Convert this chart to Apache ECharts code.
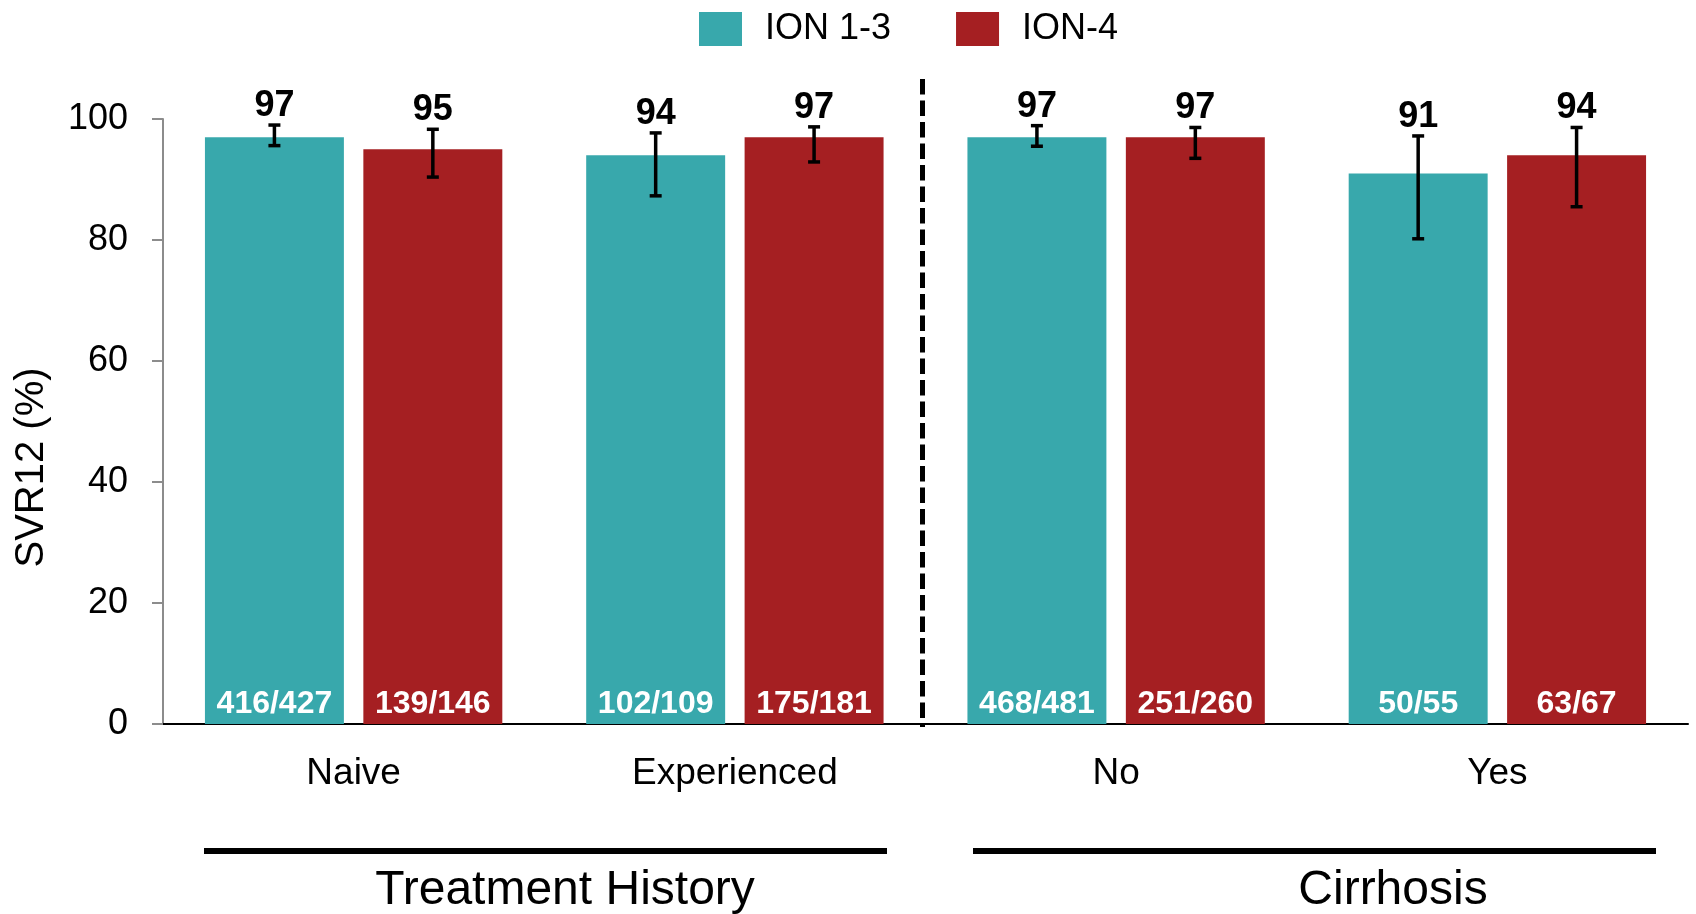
<!DOCTYPE html>
<html>
<head>
<meta charset="utf-8">
<script src="https://cdn.jsdelivr.net/npm/echarts@6/dist/echarts.min.js"></script>
<style>
html,body{margin:0;padding:0;background:#fff;}
#chart{width:1696px;height:914px;}
</style>
</head>
<body>
<div id="chart"></div>
<script>
// ---- data ----
const categories = ['Naive', 'Experienced', 'No', 'Yes'];
const seriesNames = ['ION 1-3', 'ION-4'];
const ion13 = [97, 94, 97, 91];
const ion4 = [95, 97, 97, 94];
const ion13Low = [95.6, 87.3, 95.5, 80.2];
const ion13High = [99.0, 97.7, 98.9, 97.2];
const ion4Low = [90.4, 92.9, 93.5, 85.5];
const ion4High = [98.3, 98.7, 98.6, 98.6];
const ion13N = ['416/427', '102/109', '468/481', '50/55'];
const ion4N = ['139/146', '175/181', '251/260', '63/67'];
const groupNames = ['Treatment History', 'Cirrhosis'];
const yAxisTitle = 'SVR12 (%)';

// ---- styling ----
const FONT = '"Liberation Sans", Arial, sans-serif';
const TEAL = '#38A8AC';
const RED = '#A51F22';
const CAT_GAP = 0.22, BAR_GAP = 0.14;

const chart = echarts.init(document.getElementById('chart'), null, {renderer: 'canvas'});

function barGeom(api) {
  const band = api.size([1, 0])[0];
  const w = band * (1 - CAT_GAP) / (2 + BAR_GAP);
  return {w: w, off: (w + w * BAR_GAP) / 2};
}

function errSeries(name, vals, lo, hi, sign) {
  return {
    type: 'custom',
    name: name + ' CI',
    z: 5,
    silent: true,
    encode: {x: 0, y: [1, 2]},
    data: categories.map((c, i) => [i, lo[i], hi[i], vals[i]]),
    renderItem: function (params, api) {
      const g = barGeom(api);
      const pLo = api.coord([api.value(0), api.value(1)]);
      const pHi = api.coord([api.value(0), api.value(2)]);
      const x = pLo[0] + sign * g.off;
      const cap = 6;
      const st = {stroke: '#000', lineWidth: 3.5};
      return {
        type: 'group',
        children: [
          {type: 'line', shape: {x1: x, y1: pLo[1], x2: x, y2: pHi[1]}, style: st},
          {type: 'line', shape: {x1: x - cap, y1: pLo[1], x2: x + cap, y2: pLo[1]}, style: st},
          {type: 'line', shape: {x1: x - cap, y1: pHi[1], x2: x + cap, y2: pHi[1]}, style: st},
          {type: 'text', style: {
            text: String(api.value(3)), x: x, y: pHi[1] - 19,
            align: 'center', verticalAlign: 'middle',
            font: 'bold 36px ' + FONT, fill: '#000'
          }}
        ]
      };
    }
  };
}

function barSeries(name, vals, ns, color) {
  return {
    type: 'bar',
    name: name,
    data: vals,
    barCategoryGap: (CAT_GAP * 100) + '%',
    barGap: (BAR_GAP * 100) + '%',
    itemStyle: {color: color},
    label: {
      show: true,
      position: 'insideBottom',
      distance: 4,
      formatter: p => ns[p.dataIndex],
      color: '#fff',
      fontFamily: FONT,
      fontWeight: 'bold',
      fontSize: 32
    }
  };
}

const option = {
  animation: false,
  backgroundColor: '#fff',
  textStyle: {fontFamily: FONT},
  legend: {
    left: 694,
    top: 6,
    itemWidth: 43,
    itemHeight: 34,
    itemGap: 65,
    icon: 'rect',
    data: seriesNames,
    textStyle: {fontSize: 36, color: '#000', fontFamily: FONT, padding: [0, 0, 0, 18]}
  },
  grid: {left: 163, right: 8, top: 119, bottom: 190, containLabel: false},
  xAxis: {
    type: 'category',
    data: categories,
    axisLine: {lineStyle: {color: '#000', width: 2}},
    axisTick: {show: false},
    axisLabel: {fontSize: 37, color: '#000', margin: 31, fontFamily: FONT}
  },
  yAxis: {
    type: 'value',
    min: 0,
    max: 100,
    interval: 20,
    name: yAxisTitle,
    nameLocation: 'middle',
    nameGap: 111,
    nameRotate: 90,
    nameTextStyle: {fontSize: 40, color: '#000', fontFamily: FONT, padding: [0, 92, 0, 0]},
    axisLine: {show: true, lineStyle: {color: '#8c8c8c', width: 2}},
    axisTick: {show: true, length: 11, lineStyle: {color: '#8c8c8c', width: 2}},
    splitLine: {show: false},
    axisLabel: {fontSize: 36, color: '#000', margin: 35, fontFamily: FONT}
  },
  color: [TEAL, RED],
  series: [
    barSeries(seriesNames[0], ion13, ion13N, TEAL),
    barSeries(seriesNames[1], ion4, ion4N, RED),
    errSeries(seriesNames[0], ion13, ion13Low, ion13High, -1),
    errSeries(seriesNames[1], ion4, ion4Low, ion4High, 1)
  ]
};

chart.setOption(option);

// ---- annotations (group brackets, group titles, divider) ----
const px = i => chart.convertToPixel({xAxisIndex: 0}, i);
const groupLineX = [[204, 887], [973, 1656]];
const groupTextX = [565, 1393];
const graphics = [];
groupNames.forEach((gname, k) => {
  const x1 = groupLineX[k][0], x2 = groupLineX[k][1];
  graphics.push({type: 'rect', shape: {x: x1, y: 848, width: x2 - x1, height: 6}, style: {fill: '#000'}, silent: true});
  graphics.push({type: 'text', style: {text: gname, x: groupTextX[k], y: 891, align: 'center', verticalAlign: 'middle', font: '48px ' + FONT, fill: '#000'}, silent: true});
});
const divX = (px(1) + px(2)) / 2 - 3;
graphics.push({type: 'line', shape: {x1: divX, y1: 79, x2: divX, y2: 727}, style: {stroke: '#000', lineWidth: 5, lineDash: [15.5, 6]}, silent: true, z: 10});
chart.setOption({graphic: graphics});
</script>
</body>
</html>
